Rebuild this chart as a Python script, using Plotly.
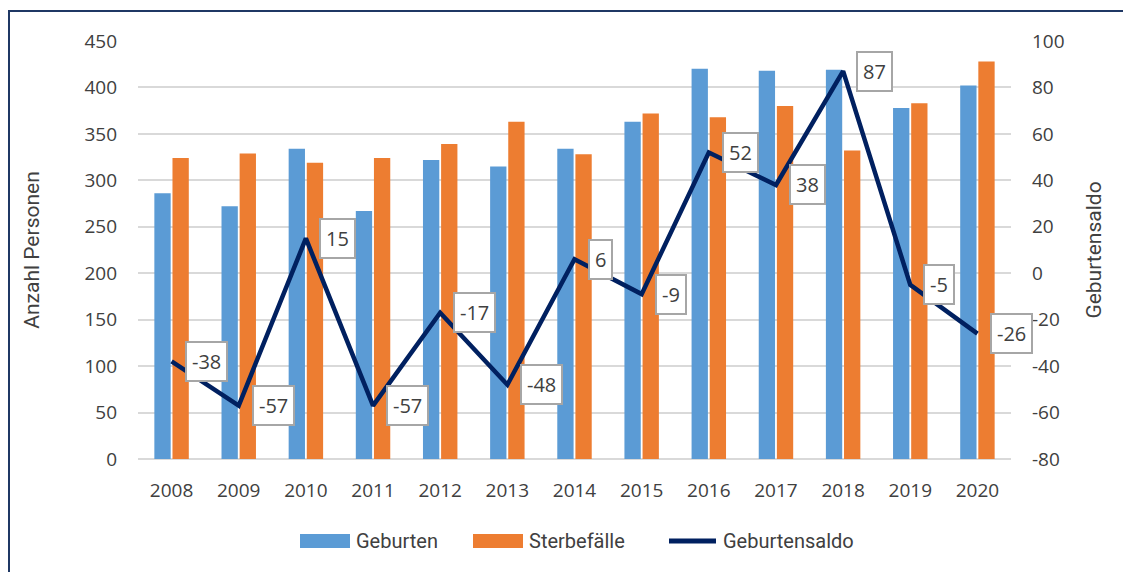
import plotly.graph_objects as go

years = [2008, 2009, 2010, 2011, 2012, 2013, 2014,
         2015, 2016, 2017, 2018, 2019, 2020]
geburten = [286, 272, 334, 267, 322, 315, 334, 363, 420, 418, 419, 378, 402]
sterbefaelle = [324, 329, 319, 324, 339, 363, 328, 372, 368, 380, 332, 383, 428]
saldo = [-38, -57, 15, -57, -17, -48, 6, -9, 52, 38, 87, -5, -26]
series_names = ["Geburten", "Sterbefälle", "Geburtensaldo"]

left_ticks = [0, 50, 100, 150, 200, 250, 300, 350, 400, 450]
right_ticks = [-80, -60, -40, -20, 0, 20, 40, 60, 80, 100]

FONT = "Open Sans"
TXT = "#404040"
BLUE, ORANGE, NAVY = "#5b9bd5", "#ed7d31", "#002060"

# figure geometry (page body has an 8px margin)
W, H = 1123, 564
L, T, PW, PH = 130, 33, 873, 418
R, B = W - L - PW, H - T - PH


def px(xf):
    return (xf - L) / PW


def py(yf):
    return (T + PH - yf) / PH


fig = go.Figure()
fig.add_trace(go.Bar(x=years, y=geburten, name=series_names[0],
                     marker=dict(color=BLUE, line=dict(width=0))))
fig.add_trace(go.Bar(x=years, y=sterbefaelle, name=series_names[1],
                     marker=dict(color=ORANGE, line=dict(width=0))))
fig.add_trace(go.Scatter(x=years, y=saldo, name=series_names[2], yaxis="y2",
                         mode="lines", line=dict(color=NAVY, width=4.5)))

for yr, v in zip(years, saldo):
    fig.add_annotation(x=yr, y=v, xref="x", yref="y2",
                       text=str(v), showarrow=False,
                       xanchor="left", yanchor="middle", xshift=13,
                       font=dict(family=FONT, size=20, color=TXT),
                       bgcolor="white", bordercolor="#a6a6a6",
                       borderwidth=2, borderpad=5)

# outer frame (top and left edges visible)
FRAME = "#1f3864"
fig.add_shape(type="line", xref="paper", yref="paper",
              x0=px(1), x1=px(W), y0=py(3), y1=py(3),
              line=dict(color=FRAME, width=2), layer="below")
fig.add_shape(type="line", xref="paper", yref="paper",
              x0=px(1), x1=px(1), y0=py(2), y1=py(H),
              line=dict(color=FRAME, width=2), layer="below")

# custom legend with wide swatches
leg_y = 533
swatch = [(292, BLUE, "bar"), (465, ORANGE, "bar"), (659, NAVY, "line")]
for (x0, col, kind), name in zip(swatch, series_names):
    if kind == "bar":
        fig.add_shape(type="rect", xref="paper", yref="paper",
                      x0=px(x0), x1=px(x0 + 50), y0=py(leg_y + 7), y1=py(leg_y - 7),
                      fillcolor=col, line=dict(width=0))
    else:
        fig.add_shape(type="line", xref="paper", yref="paper",
                      x0=px(x0 + 2), x1=px(x0 + 49), y0=py(leg_y), y1=py(leg_y),
                      line=dict(color=col, width=5))
    fig.add_annotation(xref="paper", yref="paper", x=px(x0 + 54), y=py(leg_y),
                       text=name, showarrow=False, xanchor="left", yanchor="middle",
                       font=dict(family="Roboto", size=20, color=TXT))

fig.update_layout(
    width=W, height=H,
    margin=dict(l=L, r=R, t=T, b=B),
    paper_bgcolor="white", plot_bgcolor="white",
    barmode="group", bargap=0.46, bargroupgap=0.1,
    font=dict(family=FONT, size=18, color=TXT),
    showlegend=False,
    xaxis=dict(type="linear", range=[2007.5, 2020.5], tickvals=years,
               ticktext=[str(y) for y in years],
               showgrid=False, showline=False, zeroline=False,
               ticks="", ticklabelstandoff=18,
               tickfont=dict(size=19, color=TXT)),
    yaxis=dict(range=[0, 450], tickvals=left_ticks,
               ticktext=[str(t) for t in left_ticks],
               showgrid=True, gridcolor="#d9d9d9", gridwidth=1.5,
               zeroline=True, zerolinecolor="#d9d9d9", zerolinewidth=1.5,
               ticks="", ticklabelstandoff=20,
               title=dict(text="Anzahl Personen",
                          font=dict(family="Roboto", size=21, color=TXT),
                          standoff=39),
               tickfont=dict(size=19, color=TXT)),
    yaxis2=dict(range=[-80, 100], tickvals=right_ticks,
                ticktext=[str(t) for t in right_ticks],
                overlaying="y", side="right", showgrid=False,
                zeroline=False, ticks="", ticklabelstandoff=20,
                title=dict(text="Geburtensaldo",
                           font=dict(family="Roboto", size=21, color=TXT),
                           standoff=22),
                tickfont=dict(size=19, color=TXT)),
)

fig.write_html("out.html")
